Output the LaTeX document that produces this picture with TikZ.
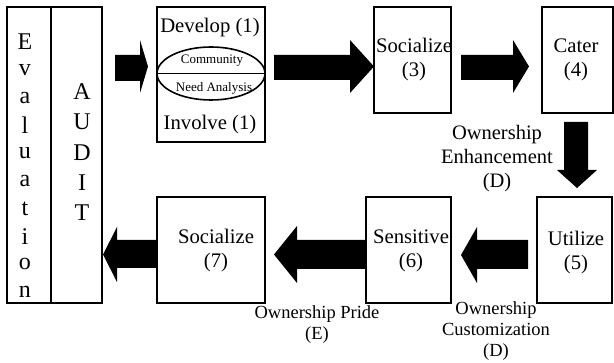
\documentclass[tikz,border=0pt]{standalone}
\usepackage{fontspec}
\setmainfont{Liberation Serif}
\usetikzlibrary{shapes.geometric}
% args: start x, head base x, tip x, shaft top, shaft bottom, head top, head bottom
\newcommand\rarr[7]{\fill (#1,#4) -- (#2,#4) -- (#2,#6) -- (#3,{(#6+#7)/2}) -- (#2,#7) -- (#2,#5) -- (#1,#5) -- cycle;}
\begin{document}
\begin{tikzpicture}[x=1pt,y=-1pt,line width=1.6pt,
  box/.style={draw,rectangle,inner sep=0pt},
  big/.style={font=\fontsize{20.7}{24}\selectfont,align=center,inner sep=0pt},
  lab/.style={font=\fontsize{18.5}{21}\selectfont,align=center,inner sep=0pt},
  labb/.style={font=\fontsize{20.5}{24}\selectfont,align=center,inner sep=0pt},
  small/.style={font=\fontsize{13}{15}\selectfont,inner sep=0pt},
  vert/.style={font=\fontsize{24}{28}\selectfont,inner sep=0pt,align=center}]
\useasboundingbox (0,0) rectangle (614,363);
% boxes
\node[box,minimum width=44pt,minimum height=296pt] (eval) at (29,155) {};
\node[box,minimum width=51pt,minimum height=296pt] (audit) at (76.5,155) {};
\node[box,minimum width=108pt,minimum height=135pt] (dev) at (211,74.5) {};
\node[box,minimum width=77pt,minimum height=106pt] (soc3) at (412.5,60) {};
\node[box,minimum width=71pt,minimum height=106pt] (cat) at (577.5,60) {};
\node[box,minimum width=75pt,minimum height=106pt] (uti) at (574.5,250) {};
\node[box,minimum width=85pt,minimum height=106pt] (sen) at (408.5,250) {};
\node[box,minimum width=108pt,minimum height=106pt] (soc7) at (211,250) {};
% Evaluation / AUDIT letters
\foreach \l [count=\i from 0] in {E,v,a,l,u,a,t,i,o,n}
  \node[vert] at (25,{42+27.8*\i}) {\l};
\foreach \l [count=\i from 0] in {A,U,D,I,T}
  \node[vert] at (82,{92+30.2*\i}) {\l};
% Develop box content
\node[draw,ellipse,minimum width=108pt,minimum height=53pt,inner sep=0pt] (ell) at (211,73.5) {};
\draw (ell.west) -- (ell.east);
\node[big] (devt) at (210,28) {Develop (1)};
\node[big] (invt) at (210,125) {Involve (1)};
\node[small] (com) at (212,61) {Community};
\node[small] (nee) at (214,88) {Need Analysis};
% texts
\node[big] at (414,60) {Socialize\\(3)};
\node[big] at (576,60) {Cater\\(4)};
\node[big] at (576,253) {Utilize\\(5)};
\node[big] at (411,251) {Sensitive\\(6)};
\node[big] at (216,251) {Socialize\\(7)};
\node[labb] at (497,159) {Ownership\\Enhancement\\(D)};
\node[lab] at (317,325) {Ownership Pride\\(E)};
\node[lab] at (496,331) {Ownership\\Customization\\(D)};
% block arrows
\rarr{115}{140}{148}{55}{81}{40}{93}
\rarr{274}{350}{374}{55}{80}{40}{93}
\rarr{461}{513}{529}{55}{80}{40}{93}
\rarr{528}{477}{461}{240}{269}{227}{283}
\rarr{366}{297}{274}{240}{269}{226}{283}
\rarr{157}{117}{103}{240}{268}{227}{282}
% down arrow
\fill (564,122) -- (588,122) -- (588,170) -- (597,170) -- (577,188) -- (557,170) -- (564,170) -- cycle;
\end{tikzpicture}
\end{document}
